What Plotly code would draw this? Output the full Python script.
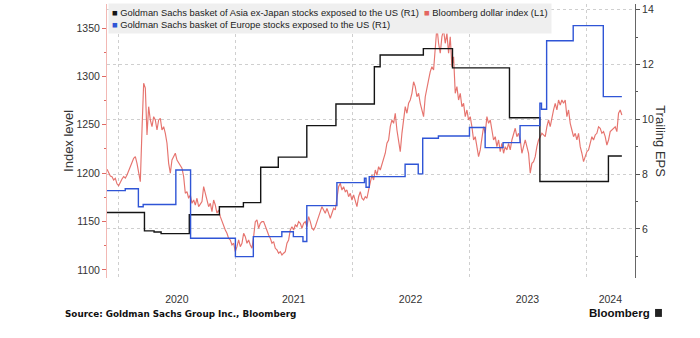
import pandas as pd
import plotly.graph_objects as go

# Bloomberg dollar index (L1), sampled roughly every 5 days
dollar_2020a = [1204, 1200, 1197, 1196.4, 1193, 1194.7, 1189, 1187, 1191.2, 1194, 1196.4, 1195,
                1198.1, 1203, 1206.7, 1211, 1215.4, 1217.1, 1210.2, 1201.6, 1191.2, 1244.6, 1292.9,
                1288, 1239.5, 1268.7, 1255, 1248, 1258.4, 1255, 1244.6, 1255, 1256.7, 1244.6, 1248,
                1241.2, 1230.9, 1210.2, 1199.9, 1213.6, 1217.1, 1220.6, 1213.6, 1210.2, 1207, 1205.1,
                1196.4, 1179.2, 1180.9, 1174.1, 1177.5, 1168.9, 1172.3, 1167.1, 1174.1, 1165.4, 1168,
                1170.6, 1186.1, 1179.2, 1172.3, 1165.4]
dollar_2021 = [1168.9, 1160.2, 1172.3, 1167.1, 1158.6, 1162, 1155.1, 1149.9, 1144.7, 1141.3, 1137.9,
               1132.7, 1131, 1125.8, 1127.6, 1118.9, 1124.1, 1131, 1124.1, 1127.6, 1137.9, 1134.4,
               1127.6, 1131, 1125.8, 1122.4, 1134.4, 1149.9, 1151.7, 1143, 1148.2, 1149.9, 1149.9,
               1144.7, 1139.6, 1136.2, 1132.7, 1127.6, 1129.3, 1122.4, 1120.7, 1117.3, 1118.9, 1115.5,
               1117.3, 1118.9, 1127.6, 1131, 1141.3, 1144.7, 1141.3, 1146.5, 1144.7, 1149.9, 1148.2,
               1143.1, 1148.2, 1149.9, 1144.7, 1155.1, 1149.9, 1143.1, 1141.3]
dollar_2022a = [1144.7, 1149.9, 1155.1, 1158.6, 1165.4, 1162, 1158.6, 1163.7, 1158.6, 1153.4, 1158.6,
                1163.7, 1162, 1175.7, 1186.1, 1189.6, 1182.6, 1186.1, 1180.9, 1182.6, 1175.7, 1179.2,
                1172.3, 1177.5, 1170.6, 1165.4, 1175.7, 1180.9, 1174.1, 1172.3, 1175.7, 1174.1, 1182.6,
                1189.6, 1198.1, 1193, 1203.3, 1198.1, 1206.7, 1203.3, 1208.5, 1213.6, 1220.6, 1230.9,
                1234.3, 1248, 1255, 1251.5, 1261.9, 1244.6, 1234.3, 1222.2, 1241.2, 1258.4, 1268.7,
                1261.9, 1272.2, 1275.6, 1282.5, 1294.5, 1289.4, 1279, 1282.5]
dollar_2022b = [1272.2, 1265.3, 1258.4, 1279, 1289.4, 1296.3, 1304.9, 1310, 1306.6, 1327.3, 1351.3,
                1334.2, 1323.9, 1341, 1347.9, 1334.2, 1344.5, 1323.9, 1341, 1310, 1320.3, 1282.5,
                1289.4, 1275.6, 1282.5, 1268.7, 1272.2, 1258.4, 1265.3, 1255, 1258.4, 1248, 1234.3,
                1237.7, 1227.4, 1217.1, 1224, 1237.7, 1248, 1241.2, 1258.4, 1251.5, 1255, 1244.6,
                1234.3, 1237.7, 1227.4, 1234.3, 1222.2, 1230.9, 1220.6, 1227.4, 1224, 1230.9, 1224,
                1234.3, 1241.2, 1246.4, 1237.7, 1241.2, 1234.3, 1220.6, 1227.4]
dollar_2023 = [1234.3, 1227.4, 1220.6, 1199.9, 1210.2, 1211.9, 1217.1, 1227.4, 1234.3, 1237.7, 1241.2,
               1239.5, 1237.7, 1248, 1255, 1248, 1258.4, 1265.3, 1272.2, 1265.3, 1275.6, 1270.5,
               1275.6, 1272.2, 1275.6, 1258.4, 1265.3, 1251.5, 1244.6, 1237.7, 1241.2, 1234.3, 1241.2,
               1227.4, 1220.6, 1211.9, 1217.1, 1222.2, 1224, 1230.9, 1237.7, 1234.3, 1239.5, 1241.2,
               1248, 1246.4, 1241.2, 1242.9, 1237.7, 1229.1, 1234.3, 1242.9, 1244.6, 1246.4, 1248,
               1242.9, 1261.9, 1265.3, 1260.1]
dollar_index = dollar_2020a + dollar_2021 + dollar_2022a + dollar_2022b + dollar_2023
dollar_dates = pd.date_range("2019-11-27", "2024-04-22", periods=len(dollar_index))

# Goldman Sachs basket of Asia ex-Japan stocks exposed to the US (R1) - trailing EPS steps
asia_dates = ["2019-11-27", "2020-03-23", "2020-04-22", "2020-05-14", "2020-08-10", "2020-11-12",
              "2021-01-26", "2021-03-21", "2021-05-15", "2021-08-12", "2021-11-11", "2022-03-11",
              "2022-03-29", "2022-08-11", "2022-11-10", "2023-05-07", "2023-08-10", "2024-03-11",
              "2024-04-22"]
asia_eps = [6.60, 5.93, 5.89, 5.83, 6.52, 6.81, 6.96, 8.25, 8.62, 9.77, 10.56, 11.92, 12.35, 12.58,
            11.88, 10.06, 7.73, 8.66, 8.66]

# Goldman Sachs basket of Europe stocks exposed to the US (R1) - trailing EPS steps
europe_dates = ["2019-11-27", "2020-01-23", "2020-03-04", "2020-03-19", "2020-06-29", "2020-08-14",
                "2021-01-01", "2021-02-26", "2021-05-26", "2021-07-01", "2021-07-31", "2021-08-12",
                "2021-11-14", "2022-02-08", "2022-02-13", "2022-02-23", "2022-06-15", "2022-07-26",
                "2022-08-09", "2022-09-27", "2023-01-02", "2023-02-20", "2023-04-17", "2023-06-09",
                "2023-08-10", "2023-08-15", "2023-08-31", "2023-11-22", "2024-02-24", "2024-04-22"]
europe_eps = [7.40, 7.47, 6.81, 6.89, 8.15, 5.66, 4.99, 5.72, 5.90, 5.72, 5.54, 6.85, 7.69, 7.85,
              7.52, 7.91, 8.36, 8.01, 9.31, 9.39, 9.70, 8.97, 9.15, 9.77, 10.59, 10.37, 12.87, 13.42,
              10.83, 10.83]

year_labels = ["2020", "2021", "2022", "2023", "2024"]
year_label_pos = ["2020-07-02", "2021-07-02", "2022-07-02", "2023-07-02", "2024-03-17"]

RED = "#e4655f"
BLUE = "#2f55d6"
BLACK = "#141414"
FONT = "Liberation Sans, Arial, sans-serif"

fig = go.Figure()
fig.add_trace(go.Scatter(x=dollar_dates, y=dollar_index, mode="lines", yaxis="y",
                         line=dict(color=RED, width=1.15), opacity=0.9, showlegend=False,
                         name="Bloomberg dollar index (L1)"))
fig.add_trace(go.Scatter(x=asia_dates, y=asia_eps, mode="lines", yaxis="y2",
                         line=dict(color=BLACK, width=1.4, shape="hv"), showlegend=False,
                         name="Goldman Sachs basket of Asia ex-Japan stocks exposed to the US (R1)"))
fig.add_trace(go.Scatter(x=europe_dates, y=europe_eps, mode="lines", yaxis="y2",
                         line=dict(color=BLUE, width=1.4, shape="hv"), showlegend=False,
                         name="Goldman Sachs basket of Europe stocks exposed to the US (R1)"))

legend_text = (
    f'<span style="color:{BLACK}">■</span> Goldman Sachs basket of Asia ex-Japan stocks exposed to the US (R1)'
    f'&nbsp;&nbsp;<span style="color:{RED}">■</span> Bloomberg dollar index (L1)'
    f'<br><span style="color:{BLUE}">■</span> Goldman Sachs basket of Europe stocks exposed to the US (R1)'
)

fig.update_layout(
    width=700, height=338,
    margin=dict(l=107, r=65, t=4, b=60),
    paper_bgcolor="white", plot_bgcolor="white",
    font=dict(family=FONT, color="#333", size=10.5),
    xaxis=dict(
        type="date",
        range=["2019-11-27", "2024-06-02"],
        tickmode="array", tickvals=year_label_pos, ticktext=year_labels,
        ticks="outside", ticklen=11, tickcolor="rgba(0,0,0,0)",
        showgrid=False, showline=False, zeroline=False,
        tickfont=dict(size=10.5, color="#333"),
        minor=dict(tick0="2020-01-01", dtick="M12", showgrid=True, gridcolor="#cfcfcf",
                   griddash="dot", gridwidth=1, ticks=""),
    ),
    yaxis=dict(
        range=[1091.7, 1374.8], side="left",
        tickmode="array", tickvals=[1100, 1150, 1200, 1250, 1300, 1350],
        ticks="outside", ticklen=4, tickcolor="#e06a64", tickwidth=1,
        showline=True, linecolor="#f2b8b4", linewidth=1,
        showgrid=False, zeroline=False,
        tickfont=dict(size=10.5, color="#333"),
        minor=dict(dtick=25, tick0=1100, ticks="outside", ticklen=2, tickcolor="#e06a64",
                   showgrid=False),
    ),
    yaxis2=dict(
        range=[4.21, 14.21], side="right", overlaying="y",
        tickmode="array", tickvals=[6, 8, 10, 12, 14],
        ticks="outside", ticklen=4, tickcolor="#555", tickwidth=1,
        showline=True, linecolor="#666", linewidth=1,
        showgrid=True, gridcolor="#cfcfcf", griddash="dot", gridwidth=1, zeroline=False,
        tickfont=dict(size=10.5, color="#333"),
        minor=dict(dtick=1, tick0=4, ticks="outside", ticklen=2, tickcolor="#555",
                   showgrid=False),
    ),
    annotations=[
        dict(text=legend_text, xref="paper", yref="paper", x=0.002, y=1.004,
             xanchor="left", yanchor="top", align="left", showarrow=False,
             bgcolor="#efefef", borderpad=3,
             font=dict(size=9.4, color="#222", family=FONT)),
        dict(text="Index level", xref="paper", yref="paper", x=-0.074, y=0.5,
             textangle=-90, showarrow=False, xanchor="center", yanchor="middle",
             font=dict(size=13, color="#333", family=FONT)),
        dict(text="Trailing EPS", xref="paper", yref="paper", x=1.049, y=0.5,
             textangle=90, showarrow=False, xanchor="center", yanchor="middle",
             font=dict(size=13, color="#333", family=FONT)),
        dict(text="<b>Source: Goldman Sachs Group Inc., Bloomberg</b>", xref="paper",
             yref="paper", x=-0.0833, y=-0.131, xanchor="left", yanchor="middle",
             showarrow=False, font=dict(size=8.8, color="#111", family="DejaVu Sans")),
        dict(text="<b>Bloomberg</b>", xref="paper", yref="paper", x=1.032, y=-0.128,
             xanchor="right", yanchor="middle", showarrow=False,
             font=dict(size=11.5, color="#111", family=FONT)),
    ],
    shapes=[
        dict(type="rect", xref="paper", yref="paper", x0=1.038, x1=1.051, y0=-0.142, y1=-0.113,
             fillcolor="#222", line=dict(width=0)),
    ],
)

fig.write_html("out.html")
